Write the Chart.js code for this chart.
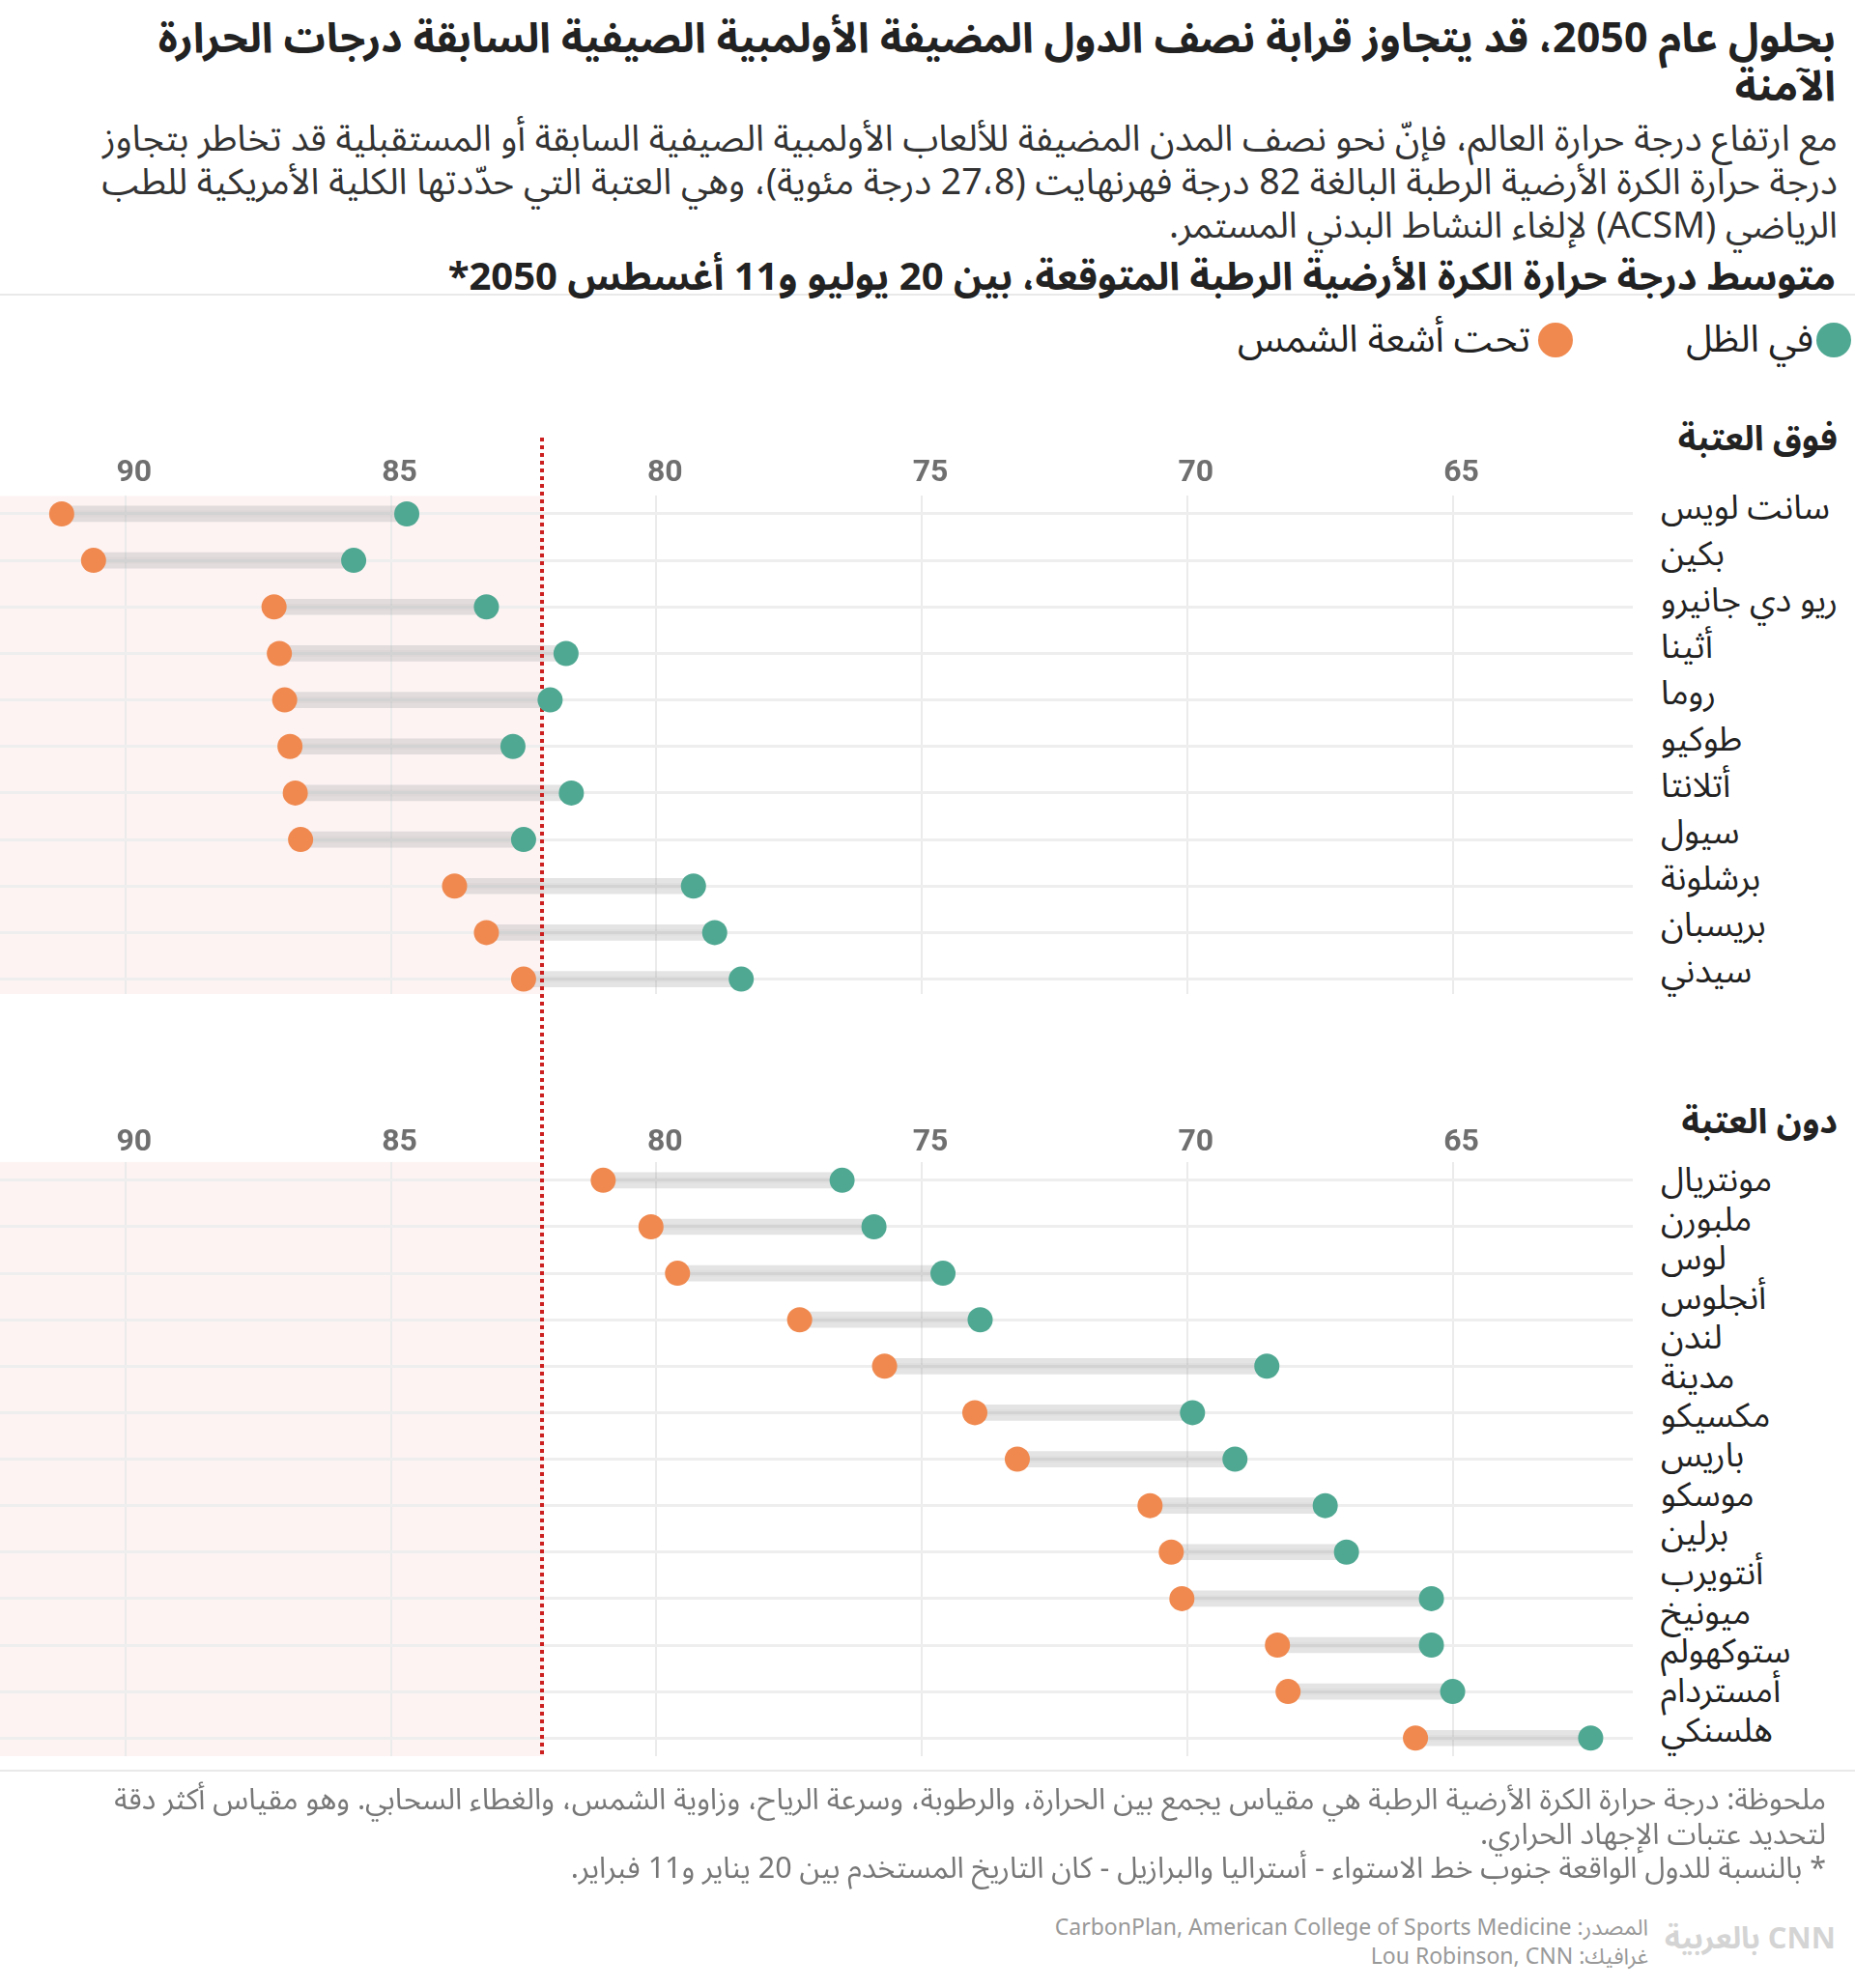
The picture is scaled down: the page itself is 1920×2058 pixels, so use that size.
<!doctype html>
<html lang="ar" dir="rtl">
<head>
    <meta charset="UTF-8" />
    <meta name="viewport" content="width=device-width, initial-scale=1.0">
    <title>درجات الحرارة في المدن الأولمبية</title>
    <style>
        body {
            margin: 0;
            background: #fff;
            font-family: "Noto Sans Arabic", "DejaVu Sans", sans-serif;
            color: #222;
        }
        .page {
            position: relative;
            width: 1920px;
            height: 2058px;
            overflow: hidden;
        }
        .abs { position: absolute; white-space: nowrap; }
        .title {
            top: 16px; right: 20px;
            font-size: 43px; font-weight: bold; line-height: 50px;
            text-align: right;
        }
        .subtitle {
            top: 122px; right: 18px;
            font-size: 37.5px; line-height: 45px; color: #333;
            text-align: right;
        }
        .heading {
            top: 268px; right: 20px;
            font-size: 40px; font-weight: bold; line-height: 40px;
            z-index: 2;
        }
        .rule { left: 0; width: 1920px; height: 2px; background: #e9e9e9; }
        .legend-dot { width: 36px; height: 36px; border-radius: 50%; }
        .legend-text { font-size: 39px; line-height: 44px; color: #222; }
        .section { right: 18px; font-size: 36px; font-weight: bold; line-height: 40px; }
        .labels {
            left: 1719px; width: 200px;
            font-size: 35px; color: #222;
            text-align: left;
        }
        .chart-box { position: absolute; left: 0; width: 1690px; }
        .note {
            top: 1846px; right: 30px;
            font-size: 30.5px; line-height: 35.5px; color: #777; text-align: right;
        }
        .source {
            top: 1981px; right: 214px;
            font-size: 23px; line-height: 30px; color: #999; text-align: right;
        }
        .logo {
            top: 1984px; right: 20px;
            font-size: 31px; font-weight: bold; line-height: 46px; color: #d4d4d4;
        }
    </style>
</head>
<body>
<div class="page">
    <div class="abs title">بحلول عام 2050، قد يتجاوز قرابة نصف الدول المضيفة الأولمبية الصيفية السابقة درجات الحرارة<br>الآمنة</div>
    <div class="abs subtitle">مع ارتفاع درجة حرارة العالم، فإنّ نحو نصف المدن المضيفة للألعاب الأولمبية الصيفية السابقة أو المستقبلية قد تخاطر بتجاوز<br>درجة حرارة الكرة الأرضية الرطبة البالغة 82 درجة فهرنهايت (27،8 درجة مئوية)، وهي العتبة التي حدّدتها الكلية الأمريكية للطب<br>الرياضي (ACSM) لإلغاء النشاط البدني المستمر.</div>
    <div class="abs rule" style="top:304px"></div>
    <div class="abs heading">متوسط درجة حرارة الكرة الأرضية الرطبة المتوقعة، بين 20 يوليو و11 أغسطس 2050*</div>

    <div class="abs legend-dot" style="left:1880px; top:334px; background:#4fa892"></div>
    <div class="abs legend-text" id="legShade" style="right:43px; top:330px"></div>
    <div class="abs legend-dot" style="left:1592px; top:334px; background:#f0894f"></div>
    <div class="abs legend-text" id="legSun" style="right:336px; top:330px"></div>

    <div class="abs section" style="top:435px">فوق العتبة</div>
    <div class="abs section" style="top:1142px">دون العتبة</div>

    <div class="chart-box" style="top:420px; height:680px"><canvas id="topChart"></canvas></div>
    <div class="chart-box" style="top:1100px; height:740px"><canvas id="bottomChart"></canvas></div>

    <div class="abs labels" id="topLabels" style="top:502px; line-height:48px"></div>
    <div class="abs labels" id="bottomLabels" style="top:1202px; line-height:40.7px"></div>

    <div class="abs rule" style="top:1832px"></div>
    <div class="abs note">ملحوظة: درجة حرارة الكرة الأرضية الرطبة هي مقياس يجمع بين الحرارة، والرطوبة، وسرعة الرياح، وزاوية الشمس، والغطاء السحابي. وهو مقياس أكثر دقة<br>لتحديد عتبات الإجهاد الحراري.<br>* بالنسبة للدول الواقعة جنوب خط الاستواء - أستراليا والبرازيل - كان التاريخ المستخدم بين 20 يناير و11 فبراير.</div>
    <div class="abs source">المصدر:  CarbonPlan, American College of Sports Medicine<br>غرافيك: Lou Robinson, CNN</div>
    <div class="abs logo">CNN بالعربية</div>
</div>

<script src="https://cdn.jsdelivr.net/npm/chart.js"></script>
<script>
    // Above the threshold (degrees Fahrenheit, wet bulb globe temperature)
    const topCities = ['سانت لويس', 'بكين', 'ريو دي جانيرو', 'أثينا', 'روما', 'طوكيو', 'أتلانتا', 'سيول', 'برشلونة', 'بريسبان', 'سيدني'];
    const topSun = [91.2, 90.6, 87.2, 87.1, 87.0, 86.9, 86.8, 86.7, 83.8, 83.2, 82.5];
    const topShade = [84.7, 85.7, 83.2, 81.7, 82.0, 82.7, 81.6, 82.5, 79.3, 78.9, 78.4];

    // Below the threshold
    const bottomCities = ['مونتريال', 'ملبورن', 'لوس أنجلوس', 'لندن', 'مدينة مكسيكو', 'باريس', 'موسكو', 'برلين', 'أنتويرب', 'ميونيخ', 'ستوكهولم', 'أمستردام', 'هلسنكي'];
    const bottomSun = [81.0, 80.1, 79.6, 77.3, 75.7, 74.0, 73.2, 70.7, 70.3, 70.1, 68.3, 68.1, 65.7];
    const bottomShade = [76.5, 75.9, 74.6, 73.9, 68.5, 69.9, 69.1, 67.4, 67.0, 65.4, 65.4, 65.0, 62.4];

    const tickValues = [90, 85, 80, 75, 70, 65];
    const seriesNames = ['في الظل', 'تحت أشعة الشمس'];
    const thresholdLine = 82.15; // where the dotted line sits in the original

    const SHADE = '#4fa892';
    const SUN = '#f0894f';

    document.getElementById('legShade').textContent = seriesNames[0];
    document.getElementById('legSun').textContent = seriesNames[1];

    document.getElementById('topLabels').innerHTML = topCities.map(c => '<div>' + c + '</div>').join('');
    // the narrow column wraps the two-word names in the lower list
    document.getElementById('bottomLabels').innerHTML = bottomCities
        .map(c => c.split(' ').map(w => '<div>' + w + '</div>').join('')).join('');

    // pink "above threshold" zone + red dotted threshold line
    const thresholdPlugin = {
        id: 'threshold',
        beforeDraw(chart) {
            const { ctx, chartArea, scales: { x } } = chart;
            const right = x.getPixelForValue(thresholdLine) + 2;
            ctx.save();
            ctx.fillStyle = '#fdf3f3';
            ctx.fillRect(chartArea.left, chartArea.top, right - chartArea.left, chartArea.bottom - chartArea.top);
            ctx.restore();
        },
        afterDatasetDraw(chart, args, opts) {
            if (args.index !== 1) return;
            const { ctx, chartArea, scales: { x } } = chart;
            const px = Math.round(x.getPixelForValue(thresholdLine));
            ctx.save();
            ctx.strokeStyle = '#cc1f1f';
            ctx.lineWidth = 4;
            ctx.setLineDash([4, 4]);
            ctx.beginPath();
            ctx.moveTo(px, opts.from);
            ctx.lineTo(px, opts.toArea ? chartArea.bottom : chart.height);
            ctx.stroke();
            ctx.restore();
        }
    };

    function makeChart(id, sun, shade, layout) {
        const n = sun.length;
        const span = sun.map((s, i) => ({ x: [s, shade[i]], y: i }));
        return new Chart(document.getElementById(id), {
            type: 'bar',
            data: {
                datasets: [{
                    type: 'bar',
                    data: span,
                    backgroundColor: 'rgba(170,170,170,0.32)',
                    barThickness: 16,
                    borderWidth: 0,
                    grouped: false,
                    order: 4
                }, {
                    // slightly darker middle of the connector
                    type: 'bar',
                    data: span,
                    backgroundColor: 'rgba(150,150,150,0.07)',
                    barThickness: 6,
                    borderWidth: 0,
                    grouped: false,
                    order: 3
                }, {
                    type: 'scatter',
                    label: seriesNames[0],
                    data: shade.map((v, i) => ({ x: v, y: i })),
                    pointRadius: 13,
                    pointHoverRadius: 13,
                    pointBorderWidth: 0,
                    pointBackgroundColor: SHADE,
                    order: 1
                }, {
                    type: 'scatter',
                    label: seriesNames[1],
                    data: sun.map((v, i) => ({ x: v, y: i })),
                    pointRadius: 13,
                    pointHoverRadius: 13,
                    pointBorderWidth: 0,
                    pointBackgroundColor: SUN,
                    order: 2
                }]
            },
            options: {
                indexAxis: 'y',
                responsive: true,
                maintainAspectRatio: false,
                animation: false,
                events: [],
                layout: {
                    autoPadding: false,
                    padding: { top: layout.padTop, bottom: layout.padBottom, left: 0, right: 0 }
                },
                plugins: {
                    legend: { display: false },
                    tooltip: { enabled: false },
                    threshold: { from: layout.lineFrom, toArea: layout.toArea }
                },
                scales: {
                    x: {
                        type: 'linear',
                        position: 'top',
                        reverse: true,
                        min: 61.607,
                        max: 92.362,
                        afterBuildTicks: axis => { axis.ticks = tickValues.map(v => ({ value: v })); },
                        grid: { color: '#ebebeb', lineWidth: 2, drawTicks: false },
                        border: { display: false },
                        ticks: {
                            padding: layout.tickPad,
                            labelOffset: 9,
                            color: '#6f6f6f',
                            font: { family: 'Roboto', size: 32, weight: 'bold' },
                            callback: v => String(v)
                        }
                    },
                    y: {
                        type: 'linear',
                        reverse: true,
                        offset: false,
                        min: layout.yMin,
                        max: n - 1 + layout.yMaxPad,
                        afterBuildTicks: axis => { axis.ticks = sun.map((s, i) => ({ value: i })); },
                        afterFit: axis => { axis.width = 0; },
                        grid: { color: '#eeeeee', lineWidth: 3, drawTicks: false, offset: false },
                        border: { display: false },
                        ticks: { display: false }
                    }
                }
            },
            plugins: [thresholdPlugin]
        });
    }

    makeChart('topChart', topSun, topShade, {
        padTop: 47, padBottom: 71, tickPad: 4, yMin: -0.385, yMaxPad: 0.32, lineFrom: 33, toArea: false
    });
    makeChart('bottomChart', bottomSun, bottomShade, {
        padTop: 63.5, padBottom: 22, tickPad: 0.5, yMin: -0.394, yMaxPad: 0.39, lineFrom: 0, toArea: true
    });
</script>
</body>
</html>
